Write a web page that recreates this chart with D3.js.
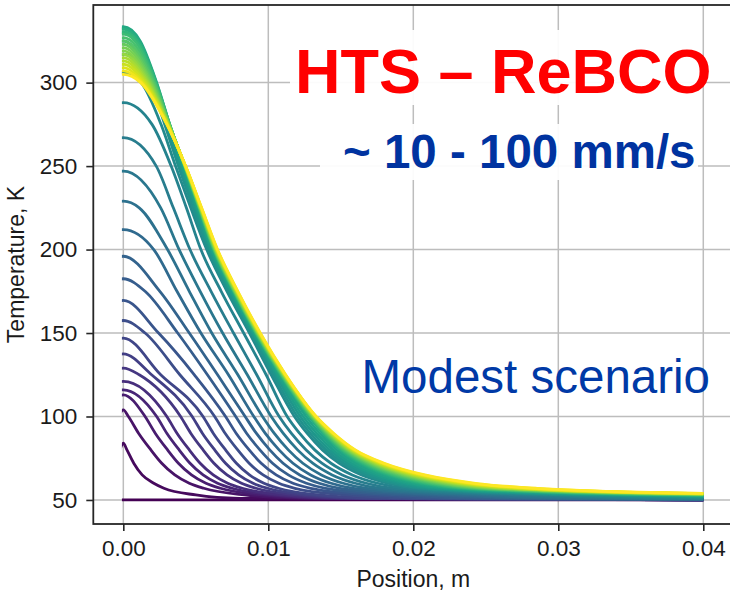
<!DOCTYPE html>
<html>
<head>
<meta charset="utf-8">
<script src="https://cdn.jsdelivr.net/npm/d3@7"></script>
<style>
  body { margin: 0; background: #fff; }
  svg { display: block; }
</style>
</head>
<body>
<svg id="chart" width="730" height="594"></svg>
<script>
// Temperature profiles T(x) along an HTS (ReBCO) tape at successive times of a quench.
// Each profile starts from its hot-spot temperature at x = 0; the positions (mm) where it
// crosses a set of temperature levels follow, then its temperature at the far end (40 mm).
const n = null;

const peakK = [50, 84, 104, 113, 116, 121, 129, 137.5, 147, 157.5, 169.5, 182.5, 196, 212, 229, 247, 267, 288,
  306, 317, 325, 330, 332.5, 333.5,
  332, 330.5, 329, 327, 325, 323, 321, 319, 317, 315, 313, 311, 309, 307, 305];

const levelsK = [325, 300, 275, 250, 225, 200, 175, 150, 125, 100, 90, 80, 72, 65, 60, 57, 53, 51];

const x325 = [n,n,n,n,n,n,n,n,n,n,n,n,n,n,n,n,n,n,n,n,n, 0.9, 1.05, 1.16, 1.05, 0.95, 0.8, 0.55, n,n,n,n,n,n,n,n,n,n,n];
const x300 = [n,n,n,n,n,n,n,n,n,n,n,n,n,n,n,n,n,n, 1.22, 1.84, 2.0, 2.15, 2.25, 2.3, 2.28, 2.24, 2.2, 2.14, 2.08, 2.0, 1.92, 1.84, 1.76, 1.67, 1.58, 1.48, 1.38, 1.28, 1.2];
const x275 = [n,n,n,n,n,n,n,n,n,n,n,n,n,n,n,n,n, 1.98, 2.6, 2.85, 3.0, 3.1, 3.15, 3.2, 3.2, 3.19, 3.18, 3.17, 3.16, 3.15, 3.14, 3.12, 3.1, 3.09, 3.07, 3.05, 3.03, 3.02, 3.0];
const x250 = [n,n,n,n,n,n,n,n,n,n,n,n,n,n,n,n, 2.27, 3.3, 3.6, 3.8, 3.95, 4.05, 4.12, 4.2, 4.21, 4.22, 4.23, 4.24, 4.25, 4.25, 4.26, 4.26, 4.27, 4.27, 4.28, 4.28, 4.29, 4.29, 4.3];
const x225 = [n,n,n,n,n,n,n,n,n,n,n,n,n,n, 1.1, 2.58, 3.45, 4.35, 4.65, 4.8, 4.95, 5.05, 5.12, 5.2, 5.21, 5.22, 5.24, 5.25, 5.27, 5.28, 5.29, 5.31, 5.32, 5.34, 5.35, 5.36, 5.37, 5.39, 5.4];
const x200 = [n,n,n,n,n,n,n,n,n,n,n,n,n, 2.1, 3.05, 3.85, 4.6, 5.35, 5.75, 5.85, 5.95, 6.05, 6.12, 6.2, 6.22, 6.24, 6.26, 6.28, 6.3, 6.32, 6.34, 6.36, 6.38, 6.4, 6.42, 6.44, 6.46, 6.48, 6.5];
const x175 = [n,n,n,n,n,n,n,n,n,n,n, 1.5, 2.52, 3.7, 4.55, 5.3, 6.05, 6.75, 7.15, 7.25, 7.35, 7.43, 7.5, 7.57, 7.6, 7.62, 7.64, 7.66, 7.68, 7.7, 7.72, 7.75, 7.77, 7.8, 7.82, 7.84, 7.86, 7.88, 7.9];
const x150 = [n,n,n,n,n,n,n,n,n, 1.5, 2.43, 3.75, 4.55, 5.35, 6.1, 6.85, 7.6, 8.3, 8.7, 8.8, 8.9, 8.97, 9.03, 9.1, 9.13, 9.15, 9.17, 9.2, 9.22, 9.24, 9.27, 9.29, 9.31, 9.33, 9.36, 9.38, 9.4, 9.42, 9.45];
const x125 = [n,n,n,n,n,n, 1.1, 1.95, 2.58, 3.9, 4.9, 5.8, 6.5, 7.25, 7.9, 8.55, 9.2, 9.85, 10.2, 10.35, 10.5, 10.62, 10.72, 10.82, 10.85, 10.88, 10.91, 10.94, 10.97, 11.0, 11.03, 11.06, 11.08, 11.1, 11.12, 11.14, 11.16, 11.18, 11.2];
const x100 = [n,n, 0.35, 1.5, 2.3, 3.0, 3.95, 4.75, 5.5, 6.3, 7.05, 7.75, 8.4, 9.0, 9.6, 10.2, 10.75, 11.3, 11.8, 12.0, 12.2, 12.4, 12.6, 12.8, 12.85, 12.9, 12.94, 12.98, 13.02, 13.06, 13.1, 13.13, 13.16, 13.19, 13.22, 13.25, 13.27, 13.29, 13.3];
const x90 = [n,n, 1.05, 2.2, 3.0, 3.7, 4.65, 5.45, 6.2, 7.02, 7.78, 8.5, 9.17, 9.78, 10.4, 11.02, 11.58, 12.15, 12.67, 12.88, 13.1, 13.32, 13.53, 13.75, 13.82, 13.88, 13.94, 14.0, 14.05, 14.11, 14.17, 14.21, 14.26, 14.31, 14.35, 14.4, 14.44, 14.47, 14.5];
const x80 = [n, 0.25, 1.9, 3.05, 3.85, 4.55, 5.5, 6.3, 7.05, 7.89, 8.68, 9.42, 10.1, 10.74, 11.38, 12.02, 12.61, 13.2, 13.73, 13.97, 14.21, 14.45, 14.69, 14.93, 15.01, 15.1, 15.18, 15.26, 15.34, 15.42, 15.49, 15.56, 15.63, 15.7, 15.77, 15.84, 15.89, 15.95, 16.0];
const x72 = [n, 0.72, 2.65, 3.8, 4.6, 5.3, 6.25, 7.05, 7.8, 8.68, 9.51, 10.29, 11.02, 11.7, 12.38, 13.06, 13.69, 14.32, 14.9, 15.18, 15.46, 15.74, 16.02, 16.3, 16.43, 16.56, 16.68, 16.8, 16.92, 17.04, 17.16, 17.27, 17.38, 17.49, 17.6, 17.71, 17.81, 17.91, 18.0];
const x65 = [n, 1.3, 3.55, 4.7, 5.5, 6.2, 7.15, 7.95, 8.7, 9.64, 10.54, 11.38, 12.17, 12.92, 13.66, 14.4, 15.1, 15.79, 16.43, 16.78, 17.12, 17.46, 17.81, 18.15, 18.34, 18.54, 18.72, 18.9, 19.09, 19.27, 19.45, 19.63, 19.8, 19.97, 20.15, 20.32, 20.48, 20.65, 20.8];
const x60 = [n, 2.1, 4.55, 5.7, 6.5, 7.2, 8.15, 8.95, 9.7, 10.73, 11.7, 12.63, 13.51, 14.33, 15.16, 15.99, 16.76, 17.54, 18.27, 18.69, 19.12, 19.55, 19.97, 20.4, 20.68, 20.95, 21.22, 21.49, 21.75, 22.02, 22.29, 22.54, 22.8, 23.06, 23.31, 23.57, 23.82, 24.06, 24.3];
const x57 = [n, 2.8, 5.55, 6.7, 7.5, 8.2, 9.15, 9.95, 10.7, 11.83, 12.92, 13.95, 14.93, 15.87, 16.8, 17.73, 18.62, 19.5, 20.33, 20.87, 21.4, 21.93, 22.47, 23.0, 23.38, 23.77, 24.14, 24.51, 24.89, 25.26, 25.63, 26.0, 26.36, 26.72, 27.09, 27.45, 27.8, 28.16, 28.5];
const x53 = [n, 5, 8.35, 9.5, 10.3, 11.0, 11.95, 12.75, 13.5, 15.37, 17.18, 18.95, 20.67, 22.33, 24.0, 25.67, 27.28, 28.9, 30.47, 31.73, 33.0, 34.27, 35.53, 36.8, 37.92, 39.03, n,n,n,n,n,n,n,n,n,n,n,n,n];
const x51 = [n, 8, 12.35, 13.5, 14.3, 15.0, 15.95, 16.75, 17.5, 19.97, 22.38, 24.75, 27.07, 29.33, 31.6, 33.87, 36.08, 38.3, n,n,n,n,n,n,n,n,n,n,n,n,n,n,n,n,n,n,n,n,n];

const endK = [50, 50, 50, 50, 50, 50, 50, 50, 50, 50.1, 50.15, 50.2, 50.3, 50.4, 50.5, 50.6, 50.75, 50.9,
  51.2, 51.5, 51.8, 52.1, 52.35, 52.6,
  52.8, 52.95, 53.05, 53.15, 53.25, 53.35, 53.45, 53.5, 53.6, 53.65, 53.7, 53.8, 53.85, 53.9, 54.0];

const crossingsMm = [x325, x300, x275, x250, x225, x200, x175, x150, x125, x100, x90, x80, x72, x65, x60, x57, x53, x51];

const xTicks = [0, 0.01, 0.02, 0.03, 0.04];
const yTicks = [50, 100, 150, 200, 250, 300];
const endMm = 40;

// ---- layout ----
const svg = d3.select("#chart");
const frameLeft = 93.3, frameRight = 733.3, frameTop = 5, frameBottom = 524;

const x = d3.scaleLinear().domain([-0.00207, 0.04207]).range([frameLeft, frameRight]);
const y = d3.scaleLinear().domain([35.6, 346.5]).range([frameBottom, frameTop]);

const font = "'Liberation Sans', Arial, Helvetica, sans-serif";

// grid
const grid = svg.append("g").attr("stroke", "#bdbdbd").attr("stroke-width", 1.5);
grid.selectAll("line.gx").data(xTicks).join("line")
  .attr("x1", d => x(d)).attr("x2", d => x(d)).attr("y1", frameTop).attr("y2", frameBottom);
grid.selectAll("line.gy").data(yTicks).join("line")
  .attr("x1", frameLeft).attr("x2", frameRight).attr("y1", d => y(d)).attr("y2", d => y(d));

// profiles
function profilePoints(i) {
  const pts = [[0, peakK[i]]];
  levelsK.forEach((L, j) => {
    const xm = crossingsMm[j][i];
    if (xm != null && L < peakK[i] && xm < endMm) pts.push([xm, L]);
  });
  pts.push([endMm, endK[i]]);
  const clean = [pts[0]];
  for (const p of pts.slice(1)) {
    if (p[0] > clean[clean.length - 1][0]) clean.push(p);
  }
  // the profile is symmetric about the hot spot at x = 0
  const mirrored = clean.slice(1).map(([a, b]) => [-a, b]).reverse();
  return mirrored.concat(clean);
}

svg.append("defs").append("clipPath").attr("id", "plot-clip")
  .append("rect").attr("x", x(0) - 1.4).attr("y", frameTop)
  .attr("width", frameRight - x(0) + 1.4).attr("height", frameBottom - frameTop);

const line = d3.line()
  .x(d => x(d[0] / 1000))
  .y(d => y(d[1]))
  .curve(d3.curveMonotoneX);

const color = d3.scaleSequential(d3.interpolateViridis).domain([0, peakK.length - 1]);

svg.append("g").attr("clip-path", "url(#plot-clip)")
  .selectAll("path").data(peakK.map((_, i) => i)).join("path")
  .attr("d", i => line(profilePoints(i)))
  .attr("fill", "none")
  .attr("stroke", i => color(i))
  .attr("stroke-width", 2.8)
  .attr("stroke-linejoin", "round");

// frame
svg.append("rect").attr("x", frameLeft).attr("y", frameTop)
  .attr("width", frameRight - frameLeft).attr("height", frameBottom - frameTop)
  .attr("fill", "none").attr("stroke", "#262626").attr("stroke-width", 1.8);

// axes
const xAxis = d3.axisBottom(x).tickValues(xTicks).tickFormat(d3.format(".2f")).tickSize(7).tickPadding(9);
const yAxis = d3.axisLeft(y).tickValues(yTicks).tickFormat(d3.format("d")).tickSize(7).tickPadding(9);

const gx = svg.append("g").attr("transform", `translate(0,${frameBottom})`).call(xAxis);
const gy = svg.append("g").attr("transform", `translate(${frameLeft},0)`).call(yAxis);
[gx, gy].forEach(g => {
  g.select(".domain").remove();
  g.selectAll(".tick line").attr("stroke", "#262626").attr("stroke-width", 1.6);
  g.selectAll(".tick text").attr("fill", "#1a1a1a").style("font-family", font).style("font-size", "22.5px");
});

svg.append("text").attr("x", (frameLeft + frameRight) / 2).attr("y", 587)
  .attr("text-anchor", "middle").attr("fill", "#1a1a1a")
  .style("font-family", font).style("font-size", "23px").text("Position, m");

svg.append("text").attr("transform", `translate(24,${(frameTop + frameBottom) / 2}) rotate(-90)`)
  .attr("text-anchor", "middle").attr("fill", "#1a1a1a")
  .style("font-family", font).style("font-size", "23px").text("Temperature, K");

// annotations
svg.append("rect").attr("x", 290).attr("y", 30).attr("width", 412).attr("height", 75)
  .attr("fill", "#fff").attr("opacity", 0.93);
svg.append("rect").attr("x", 320).attr("y", 124).attr("width", 378).attr("height", 56)
  .attr("fill", "#fff").attr("opacity", 0.93);

svg.append("text").attr("x", 295).attr("y", 93)
  .attr("fill", "#ff0000").style("font-family", font)
  .style("font-weight", "bold").style("font-size", "63px").text("HTS – ReBCO");

svg.append("text").attr("x", 343).attr("y", 168)
  .attr("fill", "#0033a0").style("font-family", font)
  .style("font-weight", "bold").style("font-size", "47.5px").text("~ 10 - 100 mm/s");

svg.append("text").attr("x", 361.5).attr("y", 393)
  .attr("fill", "#0039a6").style("font-family", font)
  .style("font-size", "47.5px").text("Modest scenario");
</script>
</body>
</html>
